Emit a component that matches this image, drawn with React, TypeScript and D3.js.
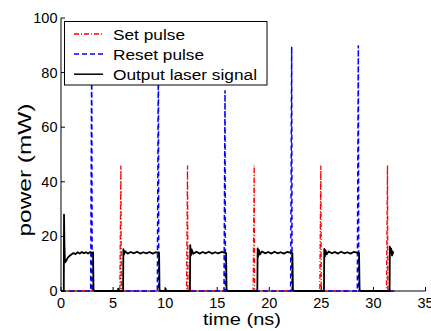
import React from "react";
import * as d3 from "d3";

// ---- data ----
const setTimes = [5.75, 12.15, 18.55, 24.95, 31.35];
const setPeaks = [46, 46, 46, 46, 46];
const resetTimes = [2.95, 9.35, 15.75, 22.15, 28.55];
const resetPeaks = [88, 88, 73.5, 89.5, 90];
const pulseEnd = 32;

// output laser signal [time ns, power mW]
const outputSignal: [number, number][] = [
  [0, 0], [0.27, 0], [0.29, 28], [0.33, 17], [0.38, 10.5], [0.5, 11], [0.65, 12.2], [0.8, 12.8],
  [1.0, 13.4], [1.2, 13.9], [1.4, 13.5], [1.6, 14.2], [1.8, 13.7], [2.0, 14.3], [2.2, 13.8],
  [2.4, 14.2], [2.6, 13.7], [2.8, 14.3], [3.0, 13.8], [3.08, 14.2], [3.12, 0.5], [3.25, 0],
  [5.45, 0], [5.5, 0.9], [5.55, 0], [5.96, 0], [5.99, 15.3], [6.05, 13.4], [6.15, 14.6],
  [6.4, 13.7], [6.7, 14.3], [7.0, 13.8], [7.3, 14.4], [7.6, 13.7], [7.9, 14.2], [8.2, 13.8],
  [8.5, 14.3], [8.8, 13.7], [9.1, 14.2], [9.42, 13.9], [9.46, 0.4], [9.6, 0],
  [10.0, 0], [10.05, 0.8], [10.1, 0], [12.38, 0], [12.41, 16.8], [12.47, 13.0], [12.55, 15.2],
  [12.7, 13.6], [13.0, 14.4], [13.3, 13.7], [13.6, 14.3], [13.9, 13.8], [14.2, 14.4], [14.5, 13.7],
  [14.8, 14.2], [15.1, 13.8], [15.4, 14.3], [15.85, 13.9], [15.9, 0.4], [16.05, 0],
  [18.85, 0], [18.88, 15.6], [18.93, 12.6], [19.0, 15.0], [19.1, 13.4], [19.3, 14.5], [19.6, 13.8],
  [19.9, 14.3], [20.2, 13.7], [20.5, 14.4], [20.8, 13.8], [21.1, 14.2], [21.4, 13.7], [21.7, 14.3],
  [22.22, 13.9], [22.27, 0.4], [22.4, 0],
  [25.25, 0], [25.28, 15.4], [25.33, 12.5], [25.4, 15.0], [25.5, 13.4], [25.7, 14.5], [26.0, 13.8],
  [26.3, 14.3], [26.6, 13.7], [26.9, 14.4], [27.2, 13.8], [27.5, 14.2], [27.8, 13.7], [28.1, 14.3],
  [28.62, 13.9], [28.67, 0.4], [28.8, 0],
  [31.55, 0], [31.58, 16.2], [31.64, 14.5], [31.7, 15.5], [31.78, 13.0], [31.85, 14.5], [31.9, 13.5],
];

const xTicks = [0, 5, 10, 15, 20, 25, 30, 35];
const yTicks = [0, 20, 40, 60, 80, 100];
const legendLabels = ["Set pulse", "Reset pulse", "Output laser signal"];

const W = 431;
const H = 331;
const FONT = "'Liberation Sans', Arial, Helvetica, sans-serif";

function pulseSeries(times: number[], peaks: number[]): [number, number][] {
  const pts: [number, number][] = [[0, 0]];
  times.forEach((t, i) => {
    pts.push([t - 0.1, 0], [t, peaks[i]], [t + 0.04, 0]);
  });
  pts.push([pulseEnd, 0]);
  return pts;
}

export default function App() {
  const x = d3.scaleLinear().domain([0, 35]).range([61, 425.5]);
  const y = d3.scaleLinear().domain([0, 100]).range([291, 18]);
  const line = d3
    .line<[number, number]>()
    .x((d) => x(d[0]))
    .y((d) => y(d[1]));

  const setPts = pulseSeries(setTimes, setPeaks);
  const resetPts = pulseSeries(resetTimes, resetPeaks);

  const legendRows = [
    { stroke: "#ff0000", dash: "5,2,1,2", width: 1.3 },
    { stroke: "#0000ff", dash: "5,3", width: 1.5 },
    { stroke: "#000000", dash: undefined, width: 1.5 },
  ];
  const legendTextLen = [72, 91, 144];

  return (
    <svg
      width={W}
      height={H}
      style={{ position: "absolute", left: 0, top: 0, background: "#fff" }}
      fontFamily={FONT}
    >
      <rect x={0} y={0} width={W} height={H} fill="#fff" />
      {/* axes */}
      <line x1={x(0)} x2={x(35)} y1={y(0)} y2={y(0)} stroke="#000" strokeWidth={1} />
      <line x1={x(0)} x2={x(0)} y1={y(0)} y2={y(100)} stroke="#000" strokeWidth={1} />
      {xTicks.map((t) => (
        <g key={"xt" + t}>
          <line x1={x(t)} x2={x(t)} y1={y(0)} y2={y(0) - 4} stroke="#000" strokeWidth={1} />
          <text x={x(t)} y={308} fontSize={14.5} textAnchor="middle" fill="#000">
            {t}
          </text>
        </g>
      ))}
      {yTicks.map((v) => (
        <g key={"yt" + v}>
          <line x1={x(0)} x2={x(0) + 4} y1={y(v)} y2={y(v)} stroke="#000" strokeWidth={1} />
          <text x={57.5} y={y(v) + 5} fontSize={14.5} textAnchor="end" fill="#000">
            {v}
          </text>
        </g>
      ))}

      {/* series */}
      <path d={line(setPts) || ""} fill="none" stroke="#ff0000" strokeWidth={1.3} strokeDasharray="5,2,1,2" />
      <path d={line(resetPts) || ""} fill="none" stroke="#0000ff" strokeWidth={1.5} strokeDasharray="5,3" />
      <path d={line(outputSignal) || ""} fill="none" stroke="#000" strokeWidth={1.8} strokeLinejoin="round" />

      {/* axis labels */}
      <text x={242} y={325} fontSize={17} textAnchor="middle" textLength={78} lengthAdjust="spacingAndGlyphs">
        time (ns)
      </text>
      <text
        transform={`translate(31,170) rotate(-90)`}
        fontSize={19}
        textAnchor="middle"
        textLength={133}
        lengthAdjust="spacingAndGlyphs"
      >
        power (mW)
      </text>

      {/* legend */}
      <rect x={64.5} y={21.5} width={202.5} height={63.5} fill="#fff" stroke="#000" strokeWidth={1} />
      {legendLabels.map((lab, i) => {
        const base = 39.5 + i * 20.1;
        const r = legendRows[i];
        return (
          <g key={lab}>
            <line
              x1={74}
              x2={103}
              y1={base - 5.5}
              y2={base - 5.5}
              stroke={r.stroke}
              strokeWidth={r.width}
              strokeDasharray={r.dash}
            />
            <text x={113} y={base} fontSize={15.5} textLength={legendTextLen[i]} lengthAdjust="spacingAndGlyphs">
              {lab}
            </text>
          </g>
        );
      })}
    </svg>
  );
}
